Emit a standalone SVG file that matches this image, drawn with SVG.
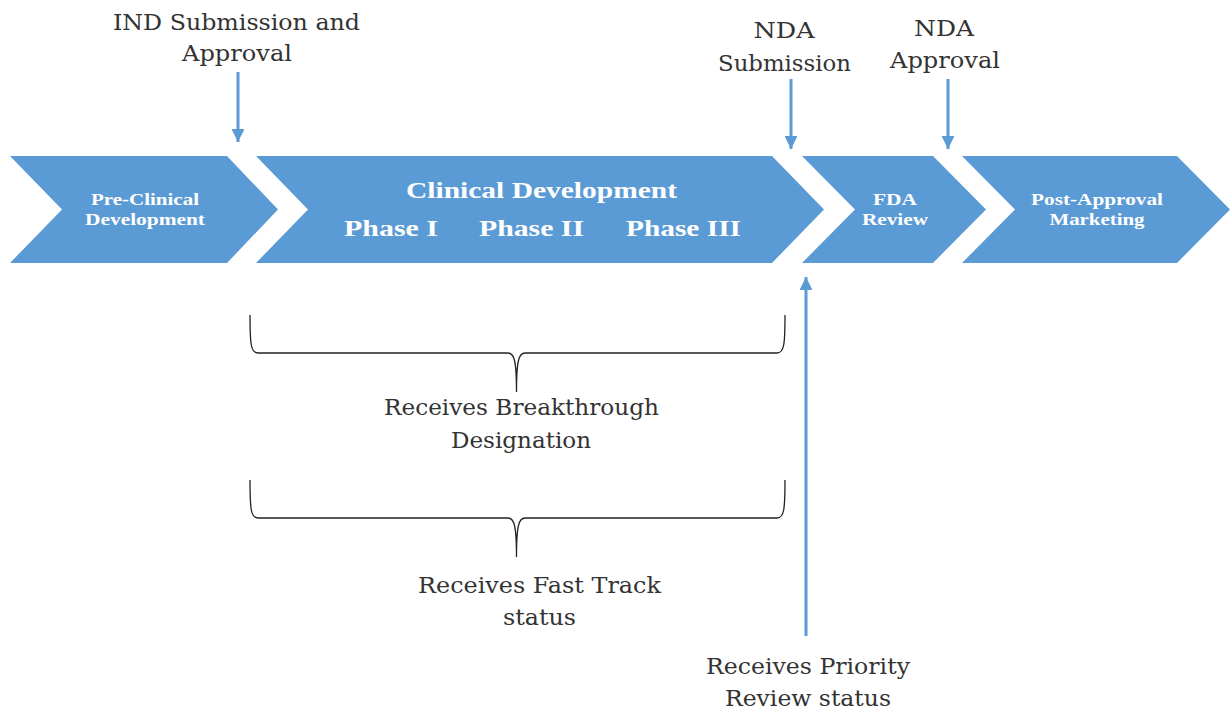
<svg xmlns="http://www.w3.org/2000/svg" width="1230" height="713" viewBox="0 0 1230 713">
<defs>
<style>
.chev{fill:#5B9BD5;}
.wt{font-family:"Liberation Serif","DejaVu Serif",serif;font-weight:bold;fill:#ffffff;text-anchor:middle;}
.s{font-size:17px;}
.l{font-size:24px;}
.ot{font-family:"DejaVu Serif",serif;font-size:23px;fill:#333333;text-anchor:middle;}
.arr{stroke:#5B9BD5;stroke-width:3;fill:none;}
.brace{stroke:#222222;stroke-width:1.3;fill:none;}
</style>
<marker id="ah" viewBox="0 0 10 10" refX="10" refY="5" markerWidth="4.3" markerHeight="4.3" orient="auto" markerUnits="strokeWidth">
<path d="M0,0 L10,5 L0,10 z" fill="#5B9BD5"/>
</marker>
</defs>
<rect width="1230" height="713" fill="#ffffff"/>

<g id="preclinical">
<polygon class="chev" points="10,156 227,156 278,209.5 227,263 10,263 62,209.5"/>
<text class="wt s" x="145" y="205" textLength="108" lengthAdjust="spacingAndGlyphs">Pre-Clinical</text>
<text class="wt s" x="145" y="225" textLength="120" lengthAdjust="spacingAndGlyphs">Development</text>
</g>

<g id="clinical">
<polygon class="chev" points="256,156 772,156 824,209.5 772,263 256,263 308,209.5"/>
<text class="wt l" x="541.5" y="198" textLength="271" lengthAdjust="spacingAndGlyphs">Clinical Development</text>
<text class="wt l" x="391" y="236" textLength="94" lengthAdjust="spacingAndGlyphs">Phase I</text>
<text class="wt l" x="531.5" y="236" textLength="105" lengthAdjust="spacingAndGlyphs">Phase II</text>
<text class="wt l" x="683.5" y="236" textLength="115" lengthAdjust="spacingAndGlyphs">Phase III</text>
</g>

<g id="fdareview">
<polygon class="chev" points="802,156 933,156 986,209.5 933,263 802,263 855,209.5"/>
<text class="wt s" x="895" y="205" textLength="44" lengthAdjust="spacingAndGlyphs">FDA</text>
<text class="wt s" x="895" y="225" textLength="66" lengthAdjust="spacingAndGlyphs">Review</text>
</g>

<g id="postapproval">
<polygon class="chev" points="962,156 1177,156 1230,209.5 1177,263 962,263 1015,209.5"/>
<text class="wt s" x="1097" y="205" textLength="132" lengthAdjust="spacingAndGlyphs">Post-Approval</text>
<text class="wt s" x="1097" y="225" textLength="95" lengthAdjust="spacingAndGlyphs">Marketing</text>
</g>

<g id="ind-label">
<text class="ot" x="236.5" y="30" textLength="247" lengthAdjust="spacingAndGlyphs">IND Submission and</text>
<text class="ot" x="237" y="61" textLength="110" lengthAdjust="spacingAndGlyphs">Approval</text>
</g>

<g id="nda-sub-label">
<text class="ot" x="784" y="38" textLength="61" lengthAdjust="spacingAndGlyphs">NDA</text>
<text class="ot" x="784.5" y="71" textLength="133" lengthAdjust="spacingAndGlyphs">Submission</text>
</g>

<g id="nda-appr-label">
<text class="ot" x="944" y="36" textLength="60" lengthAdjust="spacingAndGlyphs">NDA</text>
<text class="ot" x="945" y="68" textLength="110" lengthAdjust="spacingAndGlyphs">Approval</text>
</g>

<g id="breakthrough-label">
<text class="ot" x="521.5" y="415" textLength="275" lengthAdjust="spacingAndGlyphs">Receives Breakthrough</text>
<text class="ot" x="521" y="448" textLength="140" lengthAdjust="spacingAndGlyphs">Designation</text>
</g>

<g id="fasttrack-label">
<text class="ot" x="539.5" y="593" textLength="243" lengthAdjust="spacingAndGlyphs">Receives Fast Track</text>
<text class="ot" x="539.5" y="625" textLength="73" lengthAdjust="spacingAndGlyphs">status</text>
</g>

<g id="priority-label">
<text class="ot" x="808" y="674" textLength="204" lengthAdjust="spacingAndGlyphs">Receives Priority</text>
<text class="ot" x="808" y="706" textLength="166" lengthAdjust="spacingAndGlyphs">Review status</text>
</g>

<g id="connectors">
<line class="arr" x1="238" y1="72" x2="238" y2="142" marker-end="url(#ah)"/>
<line class="arr" x1="791" y1="79" x2="791" y2="149" marker-end="url(#ah)"/>
<line class="arr" x1="948" y1="79" x2="948" y2="149" marker-end="url(#ah)"/>
<line class="arr" x1="806" y1="636" x2="806" y2="277" marker-end="url(#ah)"/>
<path class="brace" d="M250,315 C250,345 251,353 258,353 L508,353 C514,353 516.5,360 516.5,392 C516.5,360 519,353 525,353 L777,353 C784,353 785,345 785,315"/>
<path class="brace" d="M250,480 C250,510 251,518 258,518 L508,518 C514,518 516.5,525 516.5,557 C516.5,525 519,518 525,518 L777,518 C784,518 785,510 785,480"/>
</g>
</svg>
